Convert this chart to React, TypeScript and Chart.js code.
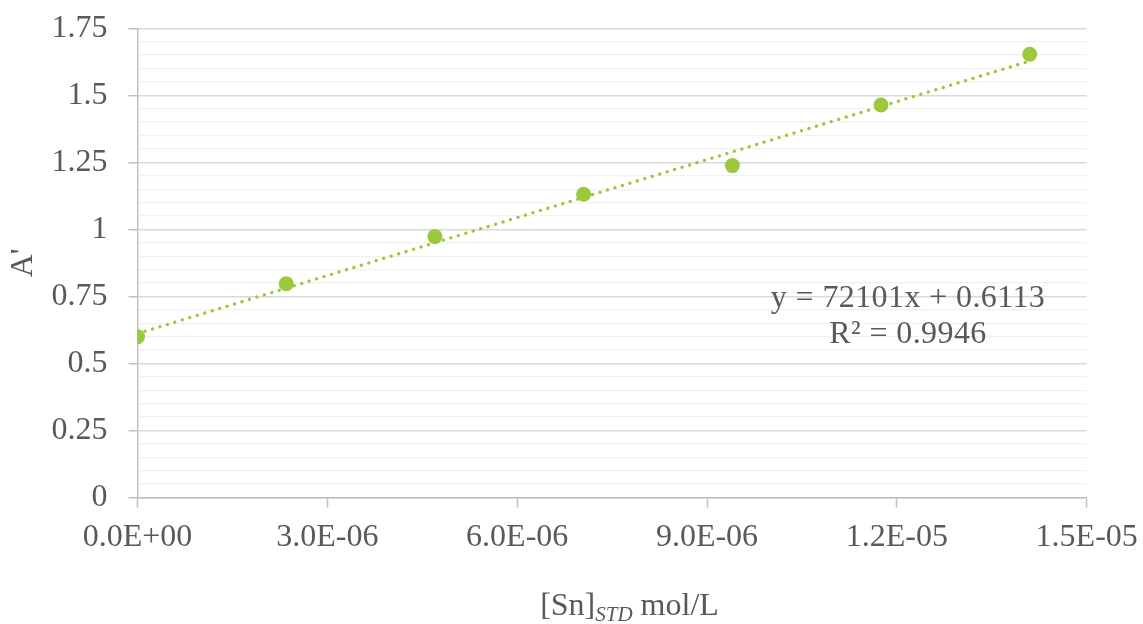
import React, { useEffect, useRef } from 'react';
import { Chart, registerables } from 'chart.js';

Chart.register(...registerables);

// ---- data ----
const concentrations = [0, 2.35e-6, 4.7e-6, 7.05e-6, 9.4e-6, 11.75e-6, 14.1e-6];
const absorbances = [0.6, 0.797, 0.973, 1.131, 1.238, 1.464, 1.653];
const trendSlope = 72101;
const trendIntercept = 0.6113;
const equationLines = ['y = 72101x + 0.6113', 'R² = 0.9946'];
const yTitle = "A'";
const xTitleMain = '[Sn]';
const xTitleSub = 'STD';
const xTitleUnit = ' mol/L';
const xMin = 0;
const xMax = 1.5e-5;
const xStep = 3e-6;
const yMin = 0;
const yMax = 1.75;
const yMajor = 0.25;
const yMinor = 0.05;

// ---- styles ----
const GREEN = '#9BC83C';
const TEXT = '#595959';
const AXIS = '#bfbfbf';
const GRID_MAJOR = '#d9d9d9';
const GRID_MINOR = '#f0f0f0';
const FONT_FAMILY = '"Liberation Serif", "Times New Roman", serif';
const FONT_SIZE = 32;

function fmtExp(v: number): string {
  if (Math.abs(v) < 1e-20) return '0.0E+00';
  const [m, e] = v.toExponential(1).split('e');
  const n = parseInt(e, 10);
  return m + 'E' + (n < 0 ? '-' : '+') + String(Math.abs(n)).padStart(2, '0');
}

function isMajor(v: number): boolean {
  const r = v / yMajor;
  return Math.abs(r - Math.round(r)) < 1e-6;
}

const textPlugin = {
  id: 'customTexts',
  afterDraw(chart: any) {
    const ctx = chart.ctx;
    ctx.save();
    ctx.fillStyle = TEXT;
    ctx.textBaseline = 'alphabetic';
    // equation
    ctx.font = `${FONT_SIZE}px ${FONT_FAMILY}`;
    ctx.textAlign = 'center';
    try {
      (ctx as any).letterSpacing = '0.4px';
    } catch (e) {
      /* ignore */
    }
    ctx.fillText(equationLines[0], 908, 306.5);
    ctx.fillText(equationLines[1], 908, 343);
    try {
      (ctx as any).letterSpacing = '0px';
    } catch (e) {
      /* ignore */
    }
    // x title with subscript
    ctx.textAlign = 'left';
    const mainFont = `${FONT_SIZE}px ${FONT_FAMILY}`;
    const subFont = `italic ${Math.round(FONT_SIZE * 0.66)}px ${FONT_FAMILY}`;
    ctx.font = mainFont;
    const w1 = ctx.measureText(xTitleMain).width;
    const w3 = ctx.measureText(xTitleUnit).width;
    ctx.font = subFont;
    const w2 = ctx.measureText(xTitleSub).width;
    const total = w1 + w2 + w3;
    let x = 629.5 - total / 2;
    const base = 615;
    ctx.font = mainFont;
    ctx.fillText(xTitleMain, x, base);
    x += w1;
    ctx.font = subFont;
    ctx.fillText(xTitleSub, x, base + 6);
    x += w2;
    ctx.font = mainFont;
    ctx.fillText(xTitleUnit, x, base);
    ctx.restore();
  },
};

export default function App() {
  const canvasRef = useRef<HTMLCanvasElement | null>(null);

  useEffect(() => {
    document.body.style.margin = '0';
    const canvas = canvasRef.current;
    if (!canvas) return;

    const points = concentrations.map((c, i) => ({ x: c, y: absorbances[i] }));
    const xLast = concentrations[concentrations.length - 1];
    const trend = [
      { x: concentrations[0], y: trendIntercept + trendSlope * concentrations[0] },
      { x: xLast, y: trendIntercept + trendSlope * xLast },
    ];

    const chart = new Chart(canvas, {
      type: 'scatter',
      data: {
        datasets: [
          {
            label: 'A',
            data: points,
            backgroundColor: GREEN,
            borderColor: GREEN,
            pointRadius: 7.5,
            pointHoverRadius: 7.5,
            pointBorderWidth: 0,
            showLine: false,
            order: 0,
          },
          {
            label: 'trend',
            data: trend,
            showLine: true,
            borderColor: GREEN,
            borderWidth: 3.3,
            borderDash: [0.1, 7.7],
            borderCapStyle: 'round',
            pointRadius: 0,
            fill: false,
            order: 1,
          } as any,
        ],
      },
      options: {
        responsive: false,
        animation: false,
        layout: { padding: { left: 0, top: 28.3, right: 56.3, bottom: 0 } },
        plugins: {
          legend: { display: false },
          tooltip: { enabled: false },
        },
        scales: {
          x: {
            type: 'linear',
            min: xMin,
            max: xMax,
            afterFit: (s: any) => {
              s.height = 126.5;
              s.paddingLeft = 0;
              s.paddingRight = 0;
            },
            ticks: {
              stepSize: xStep,
              color: TEXT,
              font: { family: FONT_FAMILY, size: FONT_SIZE },
              padding: 11,
              maxRotation: 0,
              autoSkip: false,
              callback: (v: any) => fmtExp(Number(v)),
            },
            grid: {
              drawOnChartArea: false,
              drawTicks: true,
              tickLength: 10,
              tickColor: AXIS,
              tickWidth: 1.5,
            },
            border: { display: true, color: AXIS, width: 1.5 },
          },
          y: {
            type: 'linear',
            min: yMin,
            max: yMax,
            afterFit: (s: any) => {
              s.width = 137.5;
              s.paddingTop = 0;
              s.paddingBottom = 0;
            },
            ticks: {
              stepSize: yMinor,
              color: TEXT,
              font: { family: FONT_FAMILY, size: FONT_SIZE },
              padding: 21,
              autoSkip: false,
              callback: (v: any) => {
                const n = Number(v);
                if (!isMajor(n)) return '';
                return String(Math.round(n * 100) / 100);
              },
            },
            grid: {
              drawTicks: true,
              tickLength: 9,
              color: (c: any) => (c.tick && isMajor(c.tick.value) ? GRID_MAJOR : GRID_MINOR),
              lineWidth: (c: any) => (c.tick && isMajor(c.tick.value) ? 1.5 : 1.3),
              tickColor: (c: any) => (c.tick && isMajor(c.tick.value) ? AXIS : 'rgba(0,0,0,0)'),
              tickWidth: 1.5,
            },
            border: { display: true, color: AXIS, width: 1.5 },
            title: {
              display: true,
              text: yTitle,
              color: TEXT,
              font: { family: FONT_FAMILY, size: FONT_SIZE },
              padding: { top: 4, bottom: 0 },
            },
          },
        },
      },
      plugins: [textPlugin],
    });

    return () => {
      chart.destroy();
    };
  }, []);

  return (
    <div style={{ width: 1143, height: 624, background: '#fff' }}>
      <canvas ref={canvasRef} width={1143} height={624} style={{ display: 'block' }} />
    </div>
  );
}
